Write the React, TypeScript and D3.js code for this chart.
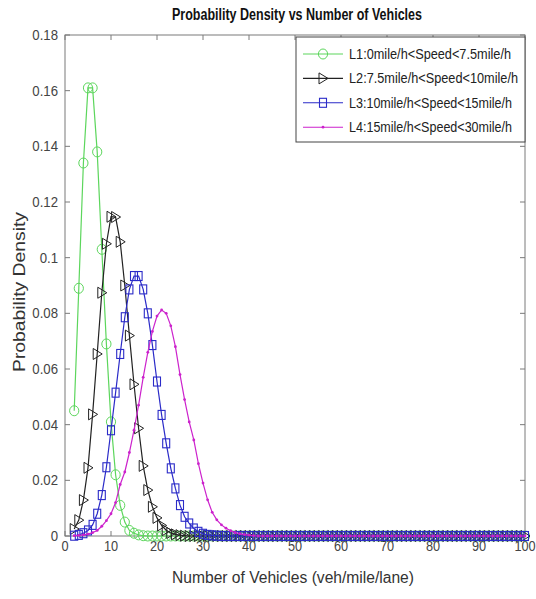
import React, { useRef, useEffect } from "react";
import * as d3 from "d3";

// x values: vehicles per mile per lane
const vehicles = d3.range(2, 101);

// L1: 0 < speed < 7.5 mile/h  (x = 2..100)
const L1 = [
  0.045, 0.089, 0.134, 0.161, 0.161, 0.138, 0.103, 0.069, 0.041, 0.022,
  0.011, 0.005, 0.002, 0.001, 0.0004, 0.0001, 0, 0, 0, 0,
  0, 0, 0, 0, 0, 0, 0, 0, 0, 0,
  0, 0, 0, 0, 0, 0, 0, 0, 0, 0,
  0, 0, 0, 0, 0, 0, 0, 0, 0, 0,
  0, 0, 0, 0, 0, 0, 0, 0, 0, 0,
  0, 0, 0, 0, 0, 0, 0, 0, 0, 0,
  0, 0, 0, 0, 0, 0, 0, 0, 0, 0,
  0, 0, 0, 0, 0, 0, 0, 0, 0, 0,
  0, 0, 0, 0, 0, 0, 0, 0, 0,
];

// L2: 7.5 < speed < 10 mile/h
const L2 = [
  0.0025, 0.0057, 0.0129, 0.0245, 0.0437, 0.0654, 0.0874, 0.105, 0.1147, 0.1146,
  0.1057, 0.09, 0.072, 0.0545, 0.0387, 0.0252, 0.0165, 0.0105, 0.0065, 0.0038,
  0.0021, 0.0011, 0.0006, 0.0003, 0.0001, 0, 0, 0, 0, 0,
  0, 0, 0, 0, 0, 0, 0, 0, 0, 0,
  0, 0, 0, 0, 0, 0, 0, 0, 0, 0,
  0, 0, 0, 0, 0, 0, 0, 0, 0, 0,
  0, 0, 0, 0, 0, 0, 0, 0, 0, 0,
  0, 0, 0, 0, 0, 0, 0, 0, 0, 0,
  0, 0, 0, 0, 0, 0, 0, 0, 0, 0,
  0, 0, 0, 0, 0, 0, 0, 0, 0,
];

// L3: 10 < speed < 15 mile/h
const L3 = [
  0.0001, 0.0004, 0.001, 0.002, 0.004, 0.008, 0.0147, 0.0247, 0.038, 0.0515,
  0.0654, 0.0786, 0.0886, 0.0934, 0.0934, 0.0886, 0.08, 0.0686, 0.0555, 0.0435,
  0.0333, 0.0243, 0.0171, 0.0111, 0.0069, 0.0045, 0.0027, 0.0015, 0.0008, 0.0004,
  0.0002, 0.0001, 0, 0, 0, 0, 0, 0, 0, 0,
  0, 0, 0, 0, 0, 0, 0, 0, 0, 0,
  0, 0, 0, 0, 0, 0, 0, 0, 0, 0,
  0, 0, 0, 0, 0, 0, 0, 0, 0, 0,
  0, 0, 0, 0, 0, 0, 0, 0, 0, 0,
  0, 0, 0, 0, 0, 0, 0, 0, 0, 0,
  0, 0, 0, 0, 0, 0, 0, 0, 0,
];

// L4: 15 < speed < 30 mile/h
const L4 = [
  0.0001, 0.0002, 0.0004, 0.0007, 0.0012, 0.002, 0.0035, 0.0055, 0.008, 0.012,
  0.0185, 0.023, 0.03, 0.038, 0.047, 0.057, 0.066, 0.0735, 0.079, 0.0812,
  0.08, 0.0755, 0.068, 0.058, 0.049, 0.041, 0.0345, 0.026, 0.019, 0.013,
  0.0085, 0.0058, 0.004, 0.0028, 0.0019, 0.0012, 0.0008, 0.0005, 0.0003, 0.0001,
  0, 0, 0, 0, 0, 0, 0, 0, 0, 0,
  0, 0, 0, 0, 0, 0, 0, 0, 0, 0,
  0, 0, 0, 0, 0, 0, 0, 0, 0, 0,
  0, 0, 0, 0, 0, 0, 0, 0, 0, 0,
  0, 0, 0, 0, 0, 0, 0, 0, 0, 0,
  0, 0, 0, 0, 0, 0, 0, 0, 0,
];

const seriesNames = [
  "L1:0mile/h<Speed<7.5mile/h",
  "L2:7.5mile/h<Speed<10mile/h",
  "L3:10mile/h<Speed<15mile/h",
  "L4:15mile/h<Speed<30mile/h",
];

const xTicks = [0, 10, 20, 30, 40, 50, 60, 70, 80, 90, 100];
const yTicks = [0, 0.02, 0.04, 0.06, 0.08, 0.1, 0.12, 0.14, 0.16, 0.18];
const yTickLabels = ["0", "0.02", "0.04", "0.06", "0.08", "0.1", "0.12", "0.14", "0.16", "0.18"];

const FONT = "'Liberation Sans', Arial, sans-serif";

const series = [
  { name: seriesNames[0], values: L1, color: "#5cd65c", marker: "circle" },
  { name: seriesNames[1], values: L2, color: "#222222", marker: "triangle" },
  { name: seriesNames[2], values: L3, color: "#2b2bc8", marker: "square" },
  { name: seriesNames[3], values: L4, color: "#cc22cc", marker: "dot" },
];

// draw one marker into a selection of g's
const drawMarker = (g, marker, color) => {
  if (marker === "circle") {
    g.append("ellipse").attr("rx", 4.6).attr("ry", 5).attr("fill", "none").attr("stroke", color).attr("stroke-width", 1);
  } else if (marker === "triangle") {
    g.append("path").attr("d", "M-4,-5.5L5,0L-4,5.5Z").attr("fill", "none").attr("stroke", color).attr("stroke-width", 1);
  } else if (marker === "square") {
    g.append("rect").attr("x", -3.5).attr("y", -4.5).attr("width", 7).attr("height", 9)
      .attr("fill", "none").attr("stroke", color).attr("stroke-width", 1.1);
  } else {
    g.append("circle").attr("r", 1.4).attr("fill", color);
  }
};

const Chart = () => {
  const svgRef = useRef(null);

  useEffect(() => {
    const svg = d3.select(svgRef.current);
    svg.selectAll("*").remove();

    const left = 65, right = 525, top = 35, bottom = 536;
    const x = d3.scaleLinear().domain([0, 100]).range([left, right]);
    const y = d3.scaleLinear().domain([0, 0.18]).range([bottom, top]);

    svg.append("rect").attr("width", 536).attr("height", 599).attr("fill", "white");

    // box
    svg.append("rect")
      .attr("x", left).attr("y", top).attr("width", right - left).attr("height", bottom - top)
      .attr("fill", "none").attr("stroke", "#7a7a7a").attr("stroke-width", 1);

    const ticks = svg.append("g").attr("stroke", "#7a7a7a").attr("stroke-width", 1);
    xTicks.forEach(t => {
      ticks.append("line").attr("x1", x(t)).attr("x2", x(t)).attr("y1", bottom).attr("y2", bottom - 5);
      ticks.append("line").attr("x1", x(t)).attr("x2", x(t)).attr("y1", top).attr("y2", top + 5);
    });
    yTicks.forEach(t => {
      ticks.append("line").attr("x1", left).attr("x2", left + 5).attr("y1", y(t)).attr("y2", y(t));
      ticks.append("line").attr("x1", right).attr("x2", right - 5).attr("y1", y(t)).attr("y2", y(t));
    });

    // tick labels (narrow font look)
    svg.append("g").selectAll("g")
      .data(xTicks).enter().append("g")
      .attr("transform", d => `translate(${x(d)},${bottom + 15})`)
      .append("text")
      .attr("transform", "scale(0.85,1)")
      .attr("text-anchor", "middle")
      .attr("font-family", FONT).attr("font-size", 15).attr("fill", "#444")
      .text(d => String(d));

    svg.append("g").selectAll("g")
      .data(yTicks).enter().append("g")
      .attr("transform", d => `translate(${left - 7},${y(d) + 5})`)
      .append("text")
      .attr("transform", "scale(0.88,1)")
      .attr("text-anchor", "end")
      .attr("font-family", FONT).attr("font-size", 15).attr("fill", "#444")
      .text((d, i) => yTickLabels[i]);

    // lines and markers
    const plot = svg.append("g");
    series.forEach(s => {
      const pts = vehicles.map((v, i) => [v, s.values[i]]);
      const line = d3.line().x(d => x(d[0])).y(d => y(d[1]));
      plot.append("path").attr("d", line(pts)).attr("fill", "none")
        .attr("stroke", s.color).attr("stroke-width", 1.2);
      const m = plot.append("g").selectAll("g").data(pts).enter().append("g")
        .attr("transform", d => `translate(${x(d[0])},${y(d[1])})`);
      drawMarker(m, s.marker, s.color);
    });

    // legend
    const lg = svg.append("g");
    lg.append("rect").attr("x", 296).attr("y", 37).attr("width", 229).attr("height", 105)
      .attr("fill", "white").attr("stroke", "#444").attr("stroke-width", 1);
    const legendLens = [162, 169, 163, 163];
    series.forEach((s, i) => {
      const cy = 54 + i * 24.4;
      lg.append("line").attr("x1", 303).attr("x2", 343).attr("y1", cy).attr("y2", cy)
        .attr("stroke", s.color).attr("stroke-width", 1.1);
      const mg = lg.append("g").attr("transform", `translate(323,${cy})`);
      drawMarker(mg, s.marker, s.color);
      lg.append("text").attr("x", 349).attr("y", cy + 5)
        .attr("font-family", FONT).attr("font-size", 14).attr("fill", "#222")
        .attr("textLength", legendLens[i]).attr("lengthAdjust", "spacingAndGlyphs")
        .text(s.name);
    });

    // title and axis labels
    svg.append("text").attr("x", 297).attr("y", 20).attr("text-anchor", "middle")
      .attr("font-family", FONT).attr("font-size", 16).attr("font-weight", "bold").attr("fill", "#111")
      .attr("textLength", 250).attr("lengthAdjust", "spacingAndGlyphs")
      .text("Probability Density vs Number of Vehicles");

    svg.append("text").attr("x", 293).attr("y", 583).attr("text-anchor", "middle")
      .attr("font-family", FONT).attr("font-size", 16).attr("fill", "#333")
      .attr("textLength", 242).attr("lengthAdjust", "spacingAndGlyphs")
      .text("Number of Vehicles (veh/mile/lane)");

    svg.append("text").attr("transform", "translate(25,292) rotate(-90)").attr("text-anchor", "middle")
      .attr("font-family", FONT).attr("font-size", 16).attr("fill", "#333")
      .attr("textLength", 160).attr("lengthAdjust", "spacingAndGlyphs")
      .text("Probability Density");
  }, []);

  return <svg ref={svgRef} width={536} height={599} style={{ position: "absolute", left: 0, top: 0 }} />;
};

export default function App() {
  return <Chart />;
}
